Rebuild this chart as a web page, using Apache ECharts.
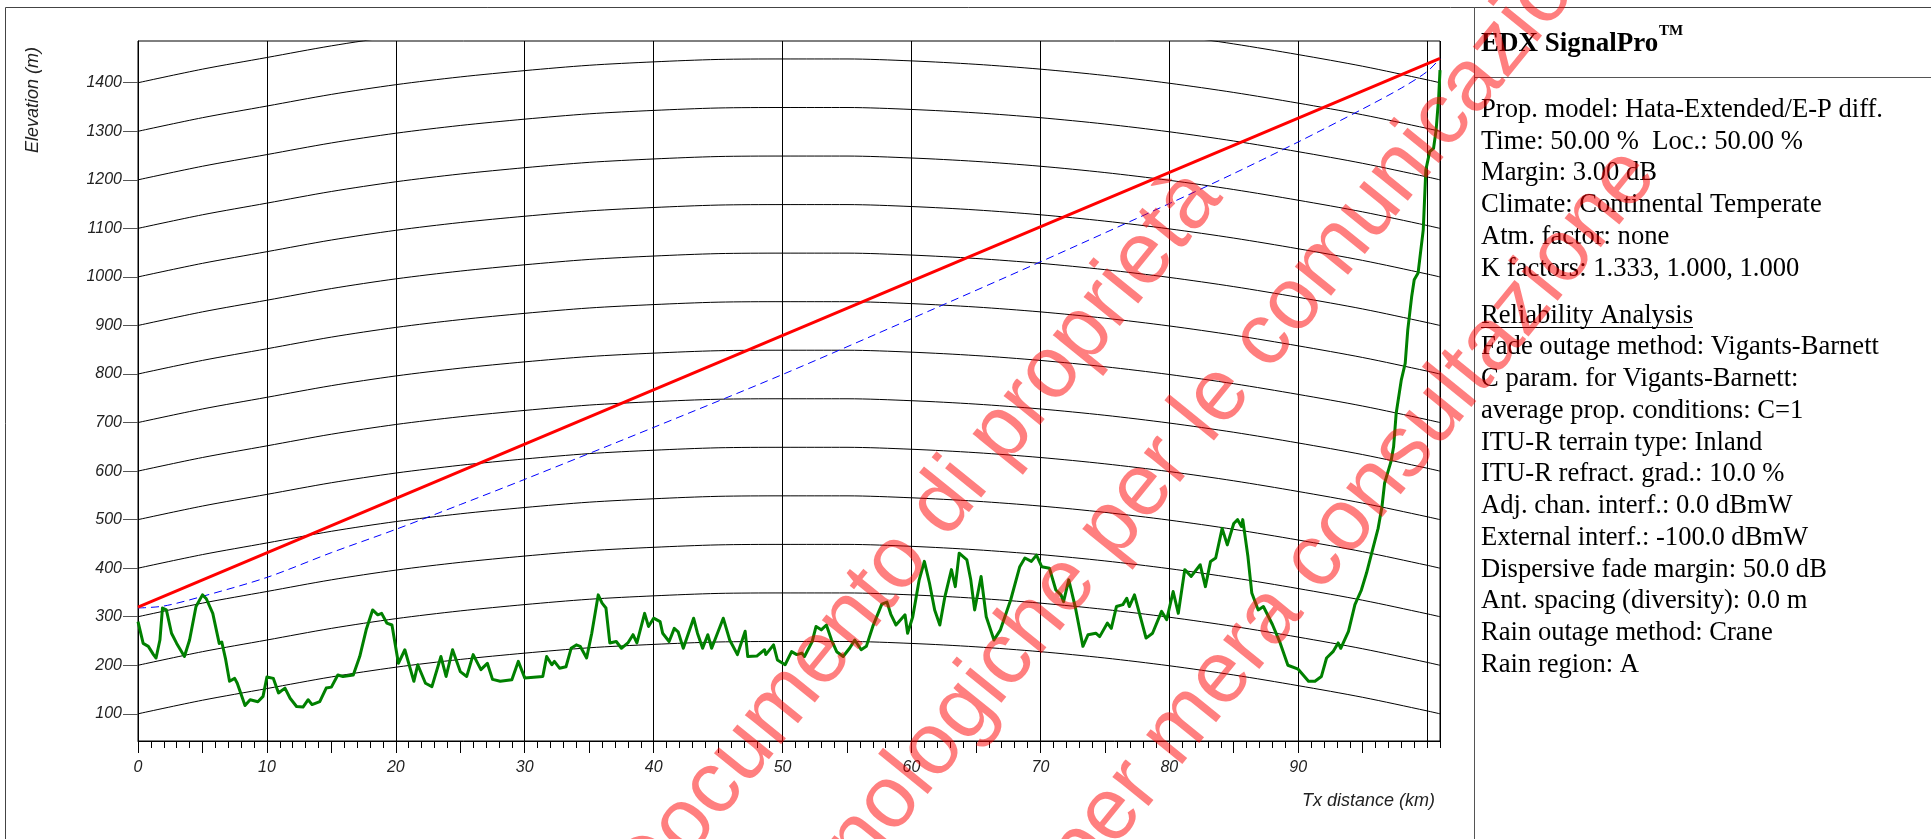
<!DOCTYPE html>
<html>
<head>
<meta charset="utf-8">
<title>Path profile</title>
<script src="https://cdn.jsdelivr.net/npm/echarts@6/dist/echarts.min.js"></script>
<style>
html, body { margin: 0; padding: 0; background: #fff; }
#main { width: 1931px; height: 839px; }
</style>
</head>
<body>
<div id="main"></div>
<script>
// terrain profile, distance from Tx (km) / elevation as read on the left axis (m)
var terrainKm = [
  0, 0.4, 0.8, 1.2, 1.4, 1.7, 1.9, 2.2, 2.6, 3.0,
  3.6, 4.0, 4.5, 5.0, 5.3, 5.8, 6.3, 6.5, 6.8, 7.1,
  7.5, 7.7, 8.3, 8.7, 9.3, 9.7, 10.0, 10.5, 10.9, 11.4,
  11.8, 12.3, 12.8, 13.2, 13.5, 14.1, 14.6, 15.0, 15.5, 15.9,
  16.7, 17.2, 17.7, 18.2, 18.6, 18.9, 19.3, 19.7, 20.2, 20.7,
  21.4, 21.7, 22.3, 22.8, 23.5, 23.9, 24.4, 25.0, 25.5, 26.0,
  26.6, 27.1, 27.5, 28.1, 29.0, 29.5, 30.0, 31.4, 31.7, 32.1,
  32.3, 32.7, 33.2, 33.6, 34.0, 34.3, 34.8, 35.2, 35.7, 36.0,
  36.3, 36.6, 37.1, 37.5, 38.0, 38.4, 38.7, 39.3, 39.6, 40.0,
  40.5, 40.7, 41.2, 41.6, 41.9, 42.3, 43.1, 43.4, 43.8, 44.2,
  44.5, 45.4, 45.9, 46.5, 47.1, 47.3, 48.0, 48.6, 48.7, 49.3,
  49.6, 50.2, 50.7, 51.1, 51.5, 51.7, 52.3, 52.6, 53.0, 53.4,
  53.8, 54.2, 54.7, 55.2, 55.6, 56.1, 56.5, 57.0, 57.7, 58.1,
  58.4, 58.8, 59.5, 59.7, 60.1, 60.6, 61.0, 61.4, 61.8, 62.2,
  62.6, 63.1, 63.4, 63.7, 64.3, 64.6, 64.9, 65.4, 65.8, 66.4,
  66.9, 67.7, 68.4, 68.8, 69.3, 69.7, 70.1, 70.7, 71.2, 71.6,
  71.8, 72.2, 72.7, 73.3, 73.7, 74.3, 74.6, 75.2, 75.5, 75.9,
  76.4, 76.7, 76.9, 77.3, 78.2, 78.7, 79.4, 79.8, 80.3, 80.7,
  81.2, 81.7, 82.4, 82.8, 83.2, 83.6, 84.1, 84.5, 85.0, 85.3,
  85.6, 85.7, 86.1, 86.4, 86.9, 87.3, 88.0, 88.6, 89.2, 90.0,
  90.8, 91.3, 91.8, 92.2, 92.7, 93.1, 93.3, 93.9, 94.4, 94.9,
  95.3, 95.7, 96.2, 96.5, 96.7, 97.0, 97.2, 97.4, 97.6, 98.0,
  98.3, 98.5, 98.8, 99.0, 99.3, 99.7, 99.9, 100.2, 100.5, 100.7,
  100.9, 101.0
];
var terrainElev = [
  290, 245, 239, 222, 215, 252, 318, 314, 266, 245,
  218, 252, 321, 345, 337, 307, 245, 248, 212, 167,
  173, 163, 117, 129, 125, 136, 176, 173, 143, 153,
  132, 115, 114, 129, 119, 125, 153, 155, 180, 177,
  180, 218, 273, 314, 304, 307, 287, 283, 204, 232,
  167, 201, 163, 156, 218, 177, 232, 187, 177, 222,
  191, 204, 171, 167, 170, 208, 174, 177, 218, 201,
  208, 194, 197, 235, 242, 239, 215, 266, 345, 328,
  318, 246, 249, 235, 246, 263, 246, 307, 280, 297,
  290, 266, 249, 276, 269, 235, 297, 266, 235, 263,
  235, 297, 252, 222, 270, 218, 219, 232, 222, 242,
  211, 201, 228, 222, 225, 218, 249, 280, 273, 283,
  252, 228, 218, 235, 252, 232, 239, 280, 326, 330,
  305, 283, 304, 266, 300, 376, 414, 369, 314, 283,
  342, 397, 362, 431, 417, 376, 314, 383, 300, 252,
  273, 335, 403, 421, 414, 427, 403, 400, 355, 345,
  331, 376, 321, 239, 263, 266, 259, 287, 276, 321,
  325, 338, 321, 345, 256, 266, 311, 294, 352, 307,
  397, 383, 407, 362, 414, 421, 482, 448, 492, 500,
  486, 500, 424, 349, 314, 321, 284, 246, 200, 192,
  167, 167, 177, 215, 228, 246, 235, 270, 325, 355,
  390, 431, 482, 527, 575, 602, 620, 650, 719, 788,
  822, 891, 959, 994, 1008, 1097, 1220, 1258, 1265, 1303,
  1371, 1426
];

// line of sight (red)
var losKm = [0, 101];
var losElev = [320, 1450];

// lower Fresnel clearance (blue dashed)
var fresKm = [0, 2, 5, 10, 15, 20, 25, 30, 40, 50, 60, 70, 80, 85, 90, 95, 98, 100, 101];
var fresElev = [318, 322, 342, 381, 432, 480, 531, 583, 690, 799, 914, 1031, 1151, 1213, 1278, 1346, 1389, 1423, 1450];

// earth bulge added to the curved elevation lines (m)
var bulgeKm = [0, 5, 10, 15, 20, 25, 30, 35, 40, 45, 50, 55, 60, 65, 70, 75, 80, 85, 90, 95, 100, 101];
var bulge = [0, 28, 52, 76, 96, 112, 125, 136, 143, 148, 149, 149, 145, 138, 128, 115, 99, 80, 58, 34, 6, 0];
var levels = [100, 200, 300, 400, 500, 600, 700, 800, 900, 1000, 1100, 1200, 1300, 1400];

// axis ticks and labels
var xLabels = [0, 10, 20, 30, 40, 50, 60, 70, 80, 90, 100];
var xMajorTicks = [0, 5, 10, 15, 20, 25, 30, 35, 40, 45, 50, 55, 60, 65, 70, 75, 80, 85, 90, 95, 100];
var xMinorTicks = [];
for (var t = 0; t <= 101; t++) xMinorTicks.push(t);
var yLabels = levels;

// side panel
var panelTitle = 'EDX SignalPro';
var panelHead = [
  'Prop. model: Hata-Extended/E-P diff.',
  'Time: 50.00 %  Loc.: 50.00 %',
  'Margin: 3.00 dB',
  'Climate: Continental Temperate',
  'Atm. factor: none',
  'K factors: 1.333, 1.000, 1.000'
];
var panelReliab = [
  'Reliability Analysis',
  'Fade outage method: Vigants-Barnett',
  'C param. for Vigants-Barnett:',
  'average prop. conditions: C=1',
  'ITU-R terrain type: Inland',
  'ITU-R refract. grad.: 10.0 %',
  'Adj. chan. interf.: 0.0 dBmW',
  'External interf.: -100.0 dBmW',
  'Dispersive fade margin: 50.0 dB',
  'Ant. spacing (diversity): 0.0 m',
  'Rain outage method: Crane',
  'Rain region: A'
];
var watermark = ['Documento di proprietà', 'Tecnologiche per le comunicazioni', 'per mera consultazione'];

var chart = echarts.init(document.getElementById('main'), null, {renderer: 'canvas'});

var sans = '"Liberation Sans", Arial, sans-serif';
var serif = '"Liberation Serif", "Times New Roman", serif';

function pairs(xs, ys) {
  var out = [];
  for (var i = 0; i < xs.length; i++) out.push([xs[i], ys[i]]);
  return out;
}

var series = [];
// curved elevation lines
levels.forEach(function (lv) {
  series.push({
    type: 'line',
    data: bulgeKm.map(function (d, i) { return [d, lv + bulge[i]]; }),
    smooth: 0.3,
    showSymbol: false,
    silent: true,
    lineStyle: {color: '#000', width: 1},
    z: 1
  });
});
series.push({
  type: 'line',
  data: pairs(fresKm, fresElev),
  smooth: 0.3,
  showSymbol: false,
  silent: true,
  lineStyle: {color: '#0000ff', width: 1, type: [8, 5]},
  z: 2
});
series.push({
  type: 'line',
  data: pairs(terrainKm, terrainElev),
  showSymbol: false,
  silent: true,
  lineStyle: {color: '#008000', width: 3, join: 'round'},
  z: 3
});
series.push({
  type: 'line',
  data: pairs(losKm, losElev),
  showSymbol: false,
  silent: true,
  lineStyle: {color: '#ff0000', width: 3},
  z: 4
});

// graphic: frames, titles, side panel, watermark
var elements = [];
elements.push({type: 'rect', shape: {x: 5.5, y: 7.5, width: 1940, height: 850}, style: {fill: 'none', stroke: '#444', lineWidth: 1}, z: 0});
elements.push({type: 'line', shape: {x1: 1474.5, y1: 7, x2: 1474.5, y2: 839}, style: {stroke: '#555', lineWidth: 1}, z: 0});
elements.push({type: 'line', shape: {x1: 1474, y1: 77.5, x2: 1931, y2: 77.5}, style: {stroke: '#555', lineWidth: 1}, z: 0});

elements.push({
  type: 'text', x: 33, y: 100, rotation: Math.PI / 2,
  style: {text: 'Elevation (m)', font: 'italic 18px ' + sans, fill: '#222',
    align: 'center', verticalAlign: 'middle', textAlign: 'center', textVerticalAlign: 'middle'}
});
elements.push({
  type: 'text', x: 1435, y: 801,
  style: {text: 'Tx distance (km)', font: 'italic 18px ' + sans, fill: '#222',
    align: 'right', verticalAlign: 'middle', textAlign: 'right', textVerticalAlign: 'middle'}
});

elements.push({
  type: 'text', x: 1481, y: 43.6,
  style: {text: panelTitle, font: 'bold 27px ' + serif, fill: '#000',
    align: 'left', verticalAlign: 'middle', textAlign: 'left', textVerticalAlign: 'middle'}
});
elements.push({
  type: 'text', x: 1659, y: 31.5,
  style: {text: 'TM', font: 'bold 15px ' + serif, fill: '#000',
    align: 'left', verticalAlign: 'middle', textAlign: 'left', textVerticalAlign: 'middle'}
});

function panelLine(txt, baseline) {
  elements.push({
    type: 'text', x: 1481, y: baseline - 9,
    style: {text: txt, font: '26.6px ' + serif, fill: '#000',
      align: 'left', verticalAlign: 'middle', textAlign: 'left', textVerticalAlign: 'middle'}
  });
}
panelHead.forEach(function (s, i) { panelLine(s, 118.8 + i * 31.75); });
panelReliab.forEach(function (s, i) { panelLine(s, 324.6 + i * 31.75); });
elements.push({type: 'line', shape: {x1: 1481, y1: 327.5, x2: 1693, y2: 327.5}, style: {stroke: '#000', lineWidth: 1.2}});

var wmPos = [[917, 538], [1179, 445], [1352, 516]];
watermark.forEach(function (s, i) {
  elements.push({
    type: 'text', x: wmPos[i][0], y: wmPos[i][1], rotation: 51 * Math.PI / 180, z: 100,
    silent: true,
    style: {text: s, font: '88px ' + sans, fill: 'rgba(255,0,0,0.5)',
      align: 'center', verticalAlign: 'middle', textAlign: 'center', textVerticalAlign: 'middle'}
  });
});

var tickLabel = {fontFamily: sans, fontStyle: 'italic', fontSize: 16, color: '#222'};

var option = {
  animation: false,
  backgroundColor: '#fff',
  grid: {left: 138, top: 41, width: 1302, height: 700, show: true, borderColor: '#000', borderWidth: 1, backgroundColor: 'transparent'},
  xAxis: [
    {
      type: 'value', min: 0, max: 101, interval: 10, position: 'bottom',
      axisLine: {show: true, lineStyle: {color: '#000'}},
      axisTick: {show: true, customValues: xMajorTicks, length: 12, lineStyle: {color: '#000'}},
      axisLabel: Object.assign({customValues: xLabels, margin: 19, showMaxLabel: false,
        formatter: function (v) { return String(v); }}, tickLabel),
      splitLine: {show: false}
    },
    {
      type: 'value', min: 0, max: 101, position: 'bottom',
      axisLine: {show: false},
      axisTick: {show: true, customValues: xMinorTicks, length: 7, lineStyle: {color: '#000'}},
      axisLabel: {show: false},
      splitLine: {show: false}
    },
    {
      type: 'value', min: 0, max: 101, interval: 10, position: 'bottom',
      axisLine: {show: false}, axisTick: {show: false}, axisLabel: {show: false},
      splitLine: {show: true, lineStyle: {color: '#000', width: 1}}
    }
  ],
  yAxis: {
    type: 'value', min: 44, max: 1486,
    axisLine: {show: true, lineStyle: {color: '#000'}},
    axisTick: {show: true, customValues: yLabels, length: 15, lineStyle: {color: '#555'}},
    axisLabel: Object.assign({customValues: yLabels, margin: 16,
      formatter: function (v) { return String(v); }}, tickLabel),
    splitLine: {show: false}
  },
  series: series,
  graphic: {elements: elements}
};

chart.setOption(option);
</script>
</body>
</html>
